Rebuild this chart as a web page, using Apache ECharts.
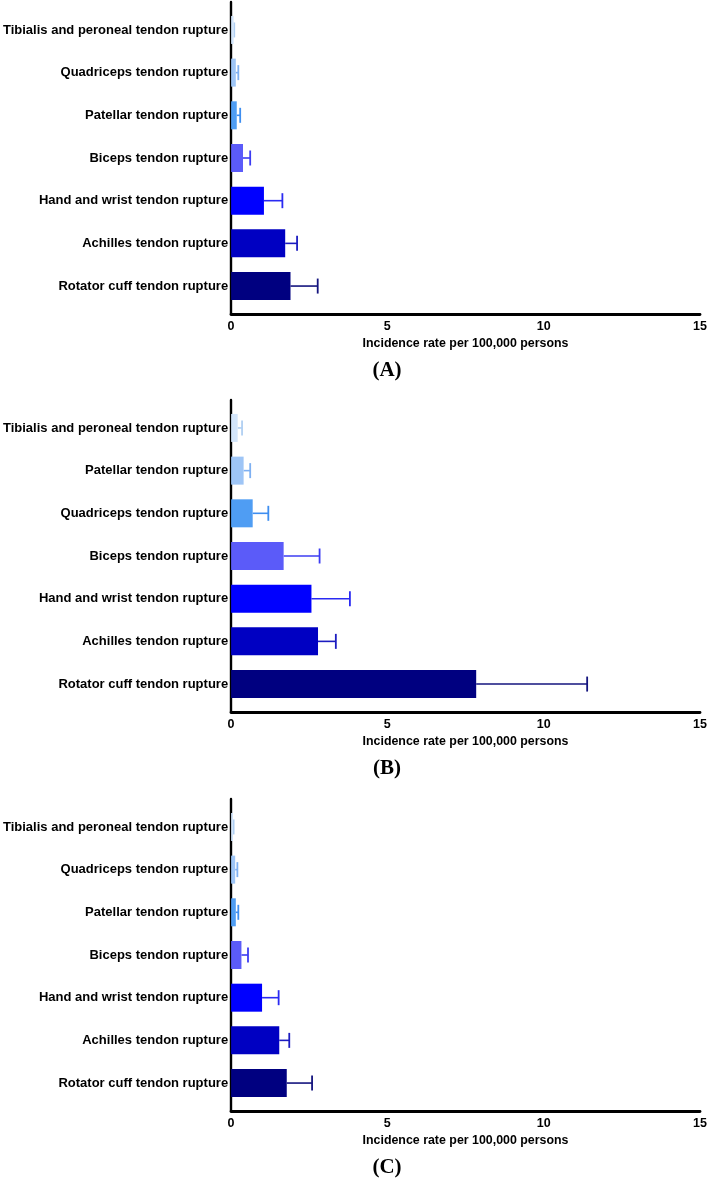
<!DOCTYPE html>
<html>
<head>
<meta charset="utf-8">
<script src="https://cdn.jsdelivr.net/npm/echarts@6/dist/echarts.min.js"></script>
<style>
html,body{margin:0;padding:0;background:#fff;}
#c{width:710px;height:1183px;}
</style>
</head>
<body>
<div id="c"></div>
<script>
// Categories listed bottom-to-top
const catsA = ['Rotator cuff tendon rupture','Achilles tendon rupture','Hand and wrist tendon rupture','Biceps tendon rupture','Patellar tendon rupture','Quadriceps tendon rupture','Tibialis and peroneal tendon rupture'];
const valsA = [1.90, 1.73, 1.05, 0.38, 0.18, 0.15, 0.08];
const errA  = [2.77, 2.11, 1.64, 0.61, 0.29, 0.23, 0.10];

const catsB = ['Rotator cuff tendon rupture','Achilles tendon rupture','Hand and wrist tendon rupture','Biceps tendon rupture','Quadriceps tendon rupture','Patellar tendon rupture','Tibialis and peroneal tendon rupture'];
const valsB = [7.84, 2.78, 2.57, 1.68, 0.69, 0.40, 0.21];
const errB  = [11.39, 3.35, 3.80, 2.83, 1.19, 0.61, 0.35];

const catsC = ['Rotator cuff tendon rupture','Achilles tendon rupture','Hand and wrist tendon rupture','Biceps tendon rupture','Patellar tendon rupture','Quadriceps tendon rupture','Tibialis and peroneal tendon rupture'];
const valsC = [1.78, 1.54, 0.99, 0.33, 0.15, 0.13, 0.06];
const errC  = [2.59, 1.86, 1.52, 0.54, 0.23, 0.20, 0.08];

const xTicks = [0, 5, 10, 15];
const panelLabels = ['(A)', '(B)', '(C)'];
const axisTitle = 'Incidence rate per 100,000 persons';

const barColors = ['#000080','#0000C2','#0000FF','#5B5BF9','#4F9DF3','#9EC5F6','#D3E5FA'];
const errColors = ['#14147E','#1C1CC0','#2A2AF2','#3C3CF2','#3E8EF0','#7EB0F2','#B0CFF2'];

const panels = [
  {cats: catsA, vals: valsA, errs: errA, top: 2},
  {cats: catsB, vals: valsB, errs: errB, top: 400},
  {cats: catsC, vals: valsC, errs: errC, top: 799}
];

const FONT = '"Liberation Sans", Arial, Helvetica, sans-serif';
const LEFT = 231, RIGHT = 10, FRAME_H = 312, PAD = 6.6;

const grid = [], xAxis = [], yAxis = [], series = [], graphic = [];

panels.forEach((p, i) => {
  const gBar = grid.length;
  grid.push({left: LEFT, right: RIGHT, top: p.top + PAD, height: FRAME_H - 2 * PAD, containLabel: false});
  const gFrame = grid.length;
  grid.push({left: LEFT, right: RIGHT, top: p.top, height: FRAME_H, containLabel: false});

  xAxis.push({gridIndex: gBar, type: 'value', min: 0, max: 15, show: false});
  yAxis.push({
    gridIndex: gBar, type: 'category', data: p.cats,
    axisLine: {show: false}, axisTick: {show: false},
    axisLabel: {color: '#000', fontFamily: FONT, fontWeight: 'bold', fontSize: 13, margin: 3}
  });
  xAxis.push({
    gridIndex: gFrame, type: 'value', min: 0, max: 15, interval: 5,
    axisLine: {show: true, lineStyle: {color: '#000', width: 2.8}},
    axisTick: {show: false}, splitLine: {show: false},
    axisLabel: {color: '#000', fontFamily: FONT, fontWeight: 'bold', fontSize: 12.5, margin: 6,
      formatter: v => xTicks.indexOf(v) >= 0 ? String(v) : ''},
    name: axisTitle, nameLocation: 'middle', nameGap: 24,
    nameTextStyle: {color: '#000', fontFamily: FONT, fontWeight: 'bold', fontSize: 12.4}
  });
  yAxis.push({
    gridIndex: gFrame, type: 'value', min: 0, max: 1,
    axisLine: {show: true, lineStyle: {color: '#000', width: 2.4}},
    axisTick: {show: false}, axisLabel: {show: false}, splitLine: {show: false}
  });

  const xa = xAxis.length - 2, ya = yAxis.length - 2;
  series.push({
    type: 'bar', xAxisIndex: xa, yAxisIndex: ya, barWidth: 28,
    data: p.vals.map((v, k) => ({value: v, itemStyle: {color: barColors[k]}})),
    silent: true, animation: false
  });
  series.push({
    type: 'custom', xAxisIndex: xa, yAxisIndex: ya, silent: true, animation: false,
    data: p.vals.map((v, k) => [v, k, p.errs[k]]),
    renderItem: (params, api) => {
      const k = api.value(1);
      const s = api.coord([api.value(0), k]);
      const e = api.coord([api.value(2), k]);
      const col = errColors[k];
      const half = 7.5;
      return {
        type: 'group',
        children: [
          {type: 'line', shape: {x1: s[0], y1: s[1], x2: e[0], y2: e[1]}, style: {stroke: col, lineWidth: 1.6}},
          {type: 'line', shape: {x1: e[0], y1: e[1] - half, x2: e[0], y2: e[1] + half}, style: {stroke: col, lineWidth: 1.8}}
        ]
      };
    }
  });

  graphic.push({
    type: 'text', x: 387, y: p.top + FRAME_H + 57,
    style: {text: panelLabels[i], fill: '#000', font: 'bold 21px "Liberation Serif", "Times New Roman", serif',
      textAlign: 'center', textVerticalAlign: 'middle'}
  });
});

const chart = echarts.init(document.getElementById('c'), null, {renderer: 'canvas'});
chart.setOption({
  animation: false,
  backgroundColor: '#fff',
  grid, xAxis, yAxis, series, graphic
});
</script>
</body>
</html>
